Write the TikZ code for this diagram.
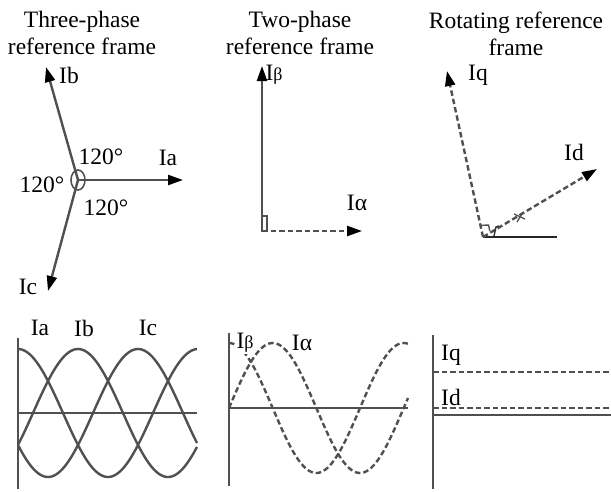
\documentclass[tikz,border=0pt]{standalone}
\usepackage{fontspec}
\setmainfont{Liberation Serif}
\usetikzlibrary{arrows.meta}
\definecolor{axgray}{HTML}{505050}
\begin{document}
\begin{tikzpicture}[x=1pt,y=-1pt,
  font=\fontsize{23.5}{27}\selectfont,
  ax/.style={draw=axgray, line width=2.4pt},
  dsh/.style={draw=axgray, line width=2.4pt, dash pattern=on 5.5pt off 3pt},
  tipa/.style={-{Triangle[length=15pt,width=10pt,color=black]}},
  lbl/.style={inner sep=0pt, anchor=center},
  ttl/.style={inner sep=0pt, align=center, anchor=center}]
\useasboundingbox (0,0) rectangle (611,491);

% ---------- titles
\node[ttl] (t1) at (82,33) {Three-phase\\reference frame};
\node[ttl] (t2) at (300,33) {Two-phase\\reference frame};
\node[ttl] (t3) at (516,34) {Rotating reference\\frame};

% ---------- panel 1 : three-phase phasors
\coordinate (o1) at (78,180);
\coordinate (ia) at (183,180);
\coordinate (ib) at (46,67);
\coordinate (ic) at (48,291);
\draw[ax,tipa] (o1) -- (ia);
\draw[ax,tipa] (o1) -- (ib);
\draw[ax,tipa] (o1) -- (ic);
\draw[draw=axgray, line width=1.6pt] (o1) ellipse [x radius=7, y radius=10];
\node[lbl] (lIb) at (69,75) {Ib};
\node[lbl] (lIa) at (168,158) {Ia};
\node[lbl] (lIc) at (28,287) {Ic};
\node[lbl] (a1) at (101,157) {120°};
\node[lbl] (a2) at (42,185) {120°};
\node[lbl] (a3) at (106,208) {120°};

% ---------- panel 2 : two-phase
\coordinate (o2) at (262,231);
\coordinate (bet) at (262,66);
\coordinate (alp) at (362,231);
\draw[ax,tipa] (o2) -- (bet);
\draw[dsh,tipa] (o2) -- (alp);
\draw[draw=axgray, line width=1.6pt] (262,231) rectangle (267,216);
\node[lbl] (lIbe) at (274,75) {I\fontsize{18}{20}\selectfont β};
\node[lbl] (lIal) at (357,203) {Iα};

% ---------- panel 3 : rotating frame
\coordinate (o3) at (483,237);
\coordinate (hx) at (557,237);
\coordinate (iq) at (447,71);
\coordinate (id) at (597,169);
\draw[line width=2.4pt, draw=black!85] (o3) -- (hx);
\draw[dsh,tipa] (o3) -- (iq);
\draw[dsh,tipa] (o3) -- (id);
\draw[draw=axgray, line width=1.4pt] (480.6,225.3) -- ++(8,-0.2) -- ++(1.2,6);
\draw[draw=black!80, line width=1.4pt] (494,236) -- (496,227) -- (499,226);
\draw[draw=axgray, line width=1.3pt] (517,222) -- (523,212);
\draw[draw=axgray, line width=1.3pt] (514,214) -- (525,219);
\node[lbl] (lIq) at (478,75) {Iq};
\node[lbl] (lId) at (574,152) {Id};

% ---------- panel 4 : three-phase waves
\coordinate (v4a) at (18,338);
\coordinate (v4b) at (18,489);
\coordinate (h4a) at (18,413);
\coordinate (h4b) at (197,413);
\draw[ax] (v4a) -- (v4b);
\draw[ax] (h4a) -- (h4b);
\draw[ax] plot[domain=18:197, samples=90, smooth] (\x, {413-64*cos(2*\x-36)});
\draw[ax] plot[domain=18:197, samples=90, smooth] (\x, {413-64*cos(2*\x-156)});
\draw[ax] plot[domain=18:197, samples=90, smooth] (\x, {413-64*cos(2*\x-276)});
\node[lbl] (wIa) at (40,328) {Ia};
\node[lbl] (wIb) at (84,328) {Ib};
\node[lbl] (wIc) at (148,328) {Ic};

% ---------- panel 5 : two-phase waves
\coordinate (v5a) at (229,333);
\coordinate (v5b) at (229,486);
\coordinate (h5a) at (229,408);
\coordinate (h5b) at (408,408);
\draw[ax] (v5a) -- (v5b);
\draw[ax] (h5a) -- (h5b);
\draw[dsh] plot[domain=229:408, samples=90, smooth] (\x, {408-65*sin(2.0607*(\x-229))});
\draw[dsh] plot[domain=229:408, samples=90, smooth] (\x, {408-65*cos(2.0607*(\x-229))});
\node[lbl, fill=white, inner sep=1pt] (wIbe) at (245,343) {I\fontsize{18}{20}\selectfont β};
\node[lbl, fill=white, inner sep=1pt] (wIal) at (302,343) {Iα};

% ---------- panel 6 : rotating-frame values
\coordinate (v6a) at (433,335);
\coordinate (v6b) at (433,489);
\coordinate (h6a) at (433,415);
\coordinate (h6b) at (611,415);
\coordinate (q6a) at (433,372);
\coordinate (q6b) at (611,372);
\coordinate (d6a) at (433,408);
\coordinate (d6b) at (611,408);
\draw[ax] (v6a) -- (v6b);
\draw[ax] (h6a) -- (h6b);
\draw[dsh] (q6a) -- (q6b);
\draw[dsh] (d6a) -- (d6b);
\node[lbl] (wIq) at (451,355) {Iq};
\node[lbl] (wId) at (451,397) {Id};
\end{tikzpicture}
\end{document}
